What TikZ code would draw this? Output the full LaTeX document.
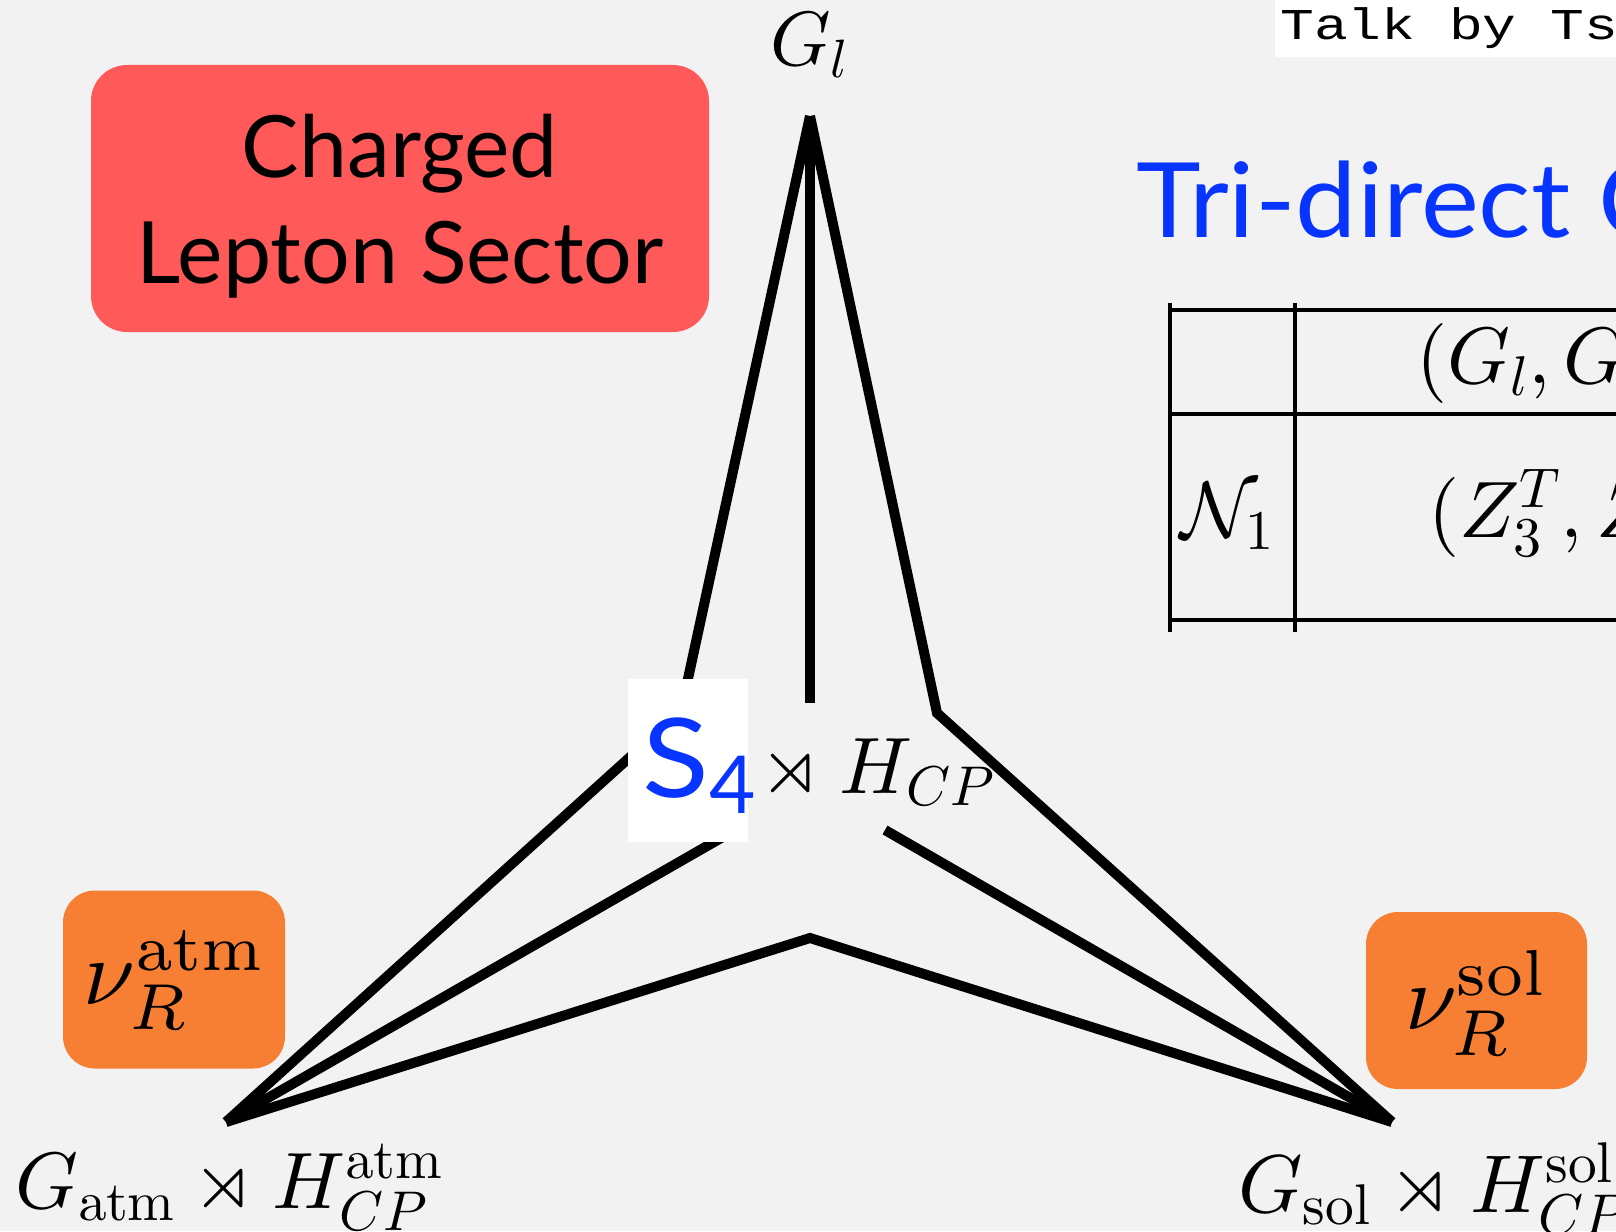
\documentclass[tikz,border=0pt]{standalone}
\usepackage{amssymb}
\usepackage[no-math]{fontspec}
\DeclareFontShape{OML}{cmm}{m}{it}{<-60>cmmi10<60-70>cmmi7<70->cmmi10}{}
\DeclareFontShape{OMS}{cmsy}{m}{n}{<-60>cmsy10<60-70>cmsy7<70->cmsy10}{}
\DeclareFontShape{OMX}{cmex}{m}{n}{<->cmex10}{}
\DeclareFontShape{OT1}{cmr}{m}{n}{<-60>cmr10<60-70>cmr7<70->cmr10}{}
\DeclareMathSizes{77}{77}{54}{38.5}
\DeclareMathSizes{80}{80}{56}{40}
\DeclareMathSizes{82}{82}{57.4}{41}
\DeclareMathSizes{93}{93}{65}{46.5}
\newfontfamily\gill{Lato}
\newfontfamily\courier{Liberation Mono}
\definecolor{bgc}{RGB}{242,242,242}
\definecolor{redbox}{RGB}{255,89,89}
\definecolor{orangebox}{RGB}{247,127,52}
\definecolor{titleblue}{RGB}{8,52,255}
\begin{document}
\begin{tikzpicture}[x=1pt,y=-1pt,
  lab/.style={inner sep=0pt,anchor=base west},
  edge/.style={line width=10pt,line join=miter},
  rule/.style={line width=3.5pt},
  nubox/.style={fill=orangebox,rounded corners=32pt,inner sep=0pt},
  m80/.style={font=\fontsize{80}{96}\selectfont}]
\useasboundingbox (0,0) rectangle (1616,1231);
\clip (0,0) rectangle (1616,1231);
\fill[bgc] (0,0) rectangle (1616,1231);

% star skeleton
\coordinate (A) at (810,116);
\coordinate (B) at (226,1122);
\coordinate (C) at (1392,1122);
\coordinate (bAB) at (681,711);
\coordinate (bAC) at (937,713);
\coordinate (bBC) at (810,938);
\coordinate (eA) at (810,703);
\coordinate (eB) at (735,830);
\coordinate (eC) at (885,830);
\draw[edge] (A) -- (bAB) -- (B);
\draw[edge] (A) -- (bAC) -- (C);
\draw[edge] (B) -- (bBC) -- (C);
\draw[edge] (A) -- (eA);
\draw[edge] (B) -- (eB);
\draw[edge] (C) -- (eC);

% S4 box
\node (s4box) [fill=white,inner sep=0pt,minimum width=120pt,minimum height=163pt] at (688,760.5) {};
\node (s4) [lab] at (642,797) {\gill\color{titleblue}\fontsize{110}{110}\selectfont\scalebox{1.12}[1]{S}\raisebox{-16pt}{\fontsize{80}{80}\selectfont 4}};
\node (hcp) [lab,m80] at (742,793) {${}\rtimes H_{CP}$};

% vertex labels
\node (gl) [lab,font=\fontsize{77}{90}\selectfont] at (770,66) {$G_l$};
\node (gatm) [lab,m80] at (15,1208) {$G_{\mathrm{atm}}\rtimes H_{CP}^{\mathrm{atm}}$};
\node (gsol) [lab,font=\fontsize{82}{96}\selectfont] at (1238,1212) {$G_{\mathrm{sol}}\rtimes H_{CP}^{\mathrm{sol}}$};

% boxes
\node (cls) [fill=redbox,rounded corners=36pt,minimum width=618pt,minimum height=267pt,inner sep=0pt] at (400,198.5) {};
\node (cls1) [inner sep=0pt,anchor=base,font=\gill\fontsize{86}{86}\selectfont] at (400,177) {Charged};
\node (cls2) [inner sep=0pt,anchor=base,font=\gill\fontsize{86}{86}\selectfont] at (400,283) {Lepton Sector};
\node (nuatm) [nubox,minimum width=222pt,minimum height=178pt] at (174,979.5) {};
\node (nuatmt) [inner sep=0pt,font=\fontsize{93}{110}\selectfont] at (173,980) {$\nu_R^{\mathrm{atm}}$};
\node (nusol) [nubox,minimum width=221pt,minimum height=177pt] at (1476.5,1000.5) {};
\node (nusolt) [inner sep=0pt,font=\fontsize{93}{110}\selectfont] at (1475,1003) {$\nu_R^{\mathrm{sol}}$};

% title and note
\node (title) [lab,text=titleblue,font=\gill\fontsize{104}{104}\selectfont] at (1136,237) {\scalebox{1.053}[1]{Tri-direct C}};
\fill[white] (1275,0) rectangle (1616,57);
\node (talk) [lab,font=\courier\fontsize{44}{44}\selectfont] at (1280,40) {\scalebox{1.28}[1]{Talk by Ts}};

% table
\draw[rule] (1170,303) -- (1170,632);
\draw[rule] (1295,303) -- (1295,632);
\draw[rule] (1170,310) -- (1616,310);
\draw[rule] (1170,414) -- (1616,414);
\draw[rule] (1170,620) -- (1616,620);
\node (thead) [lab,m80] at (1416,383) {$(G_l, G$};
\node (tn1) [lab,m80] at (1180,537) {$\mathcal{N}_1$};
\node (tz) [lab,m80] at (1428,537) {$(Z_3^T, Z$};
\end{tikzpicture}
\end{document}
